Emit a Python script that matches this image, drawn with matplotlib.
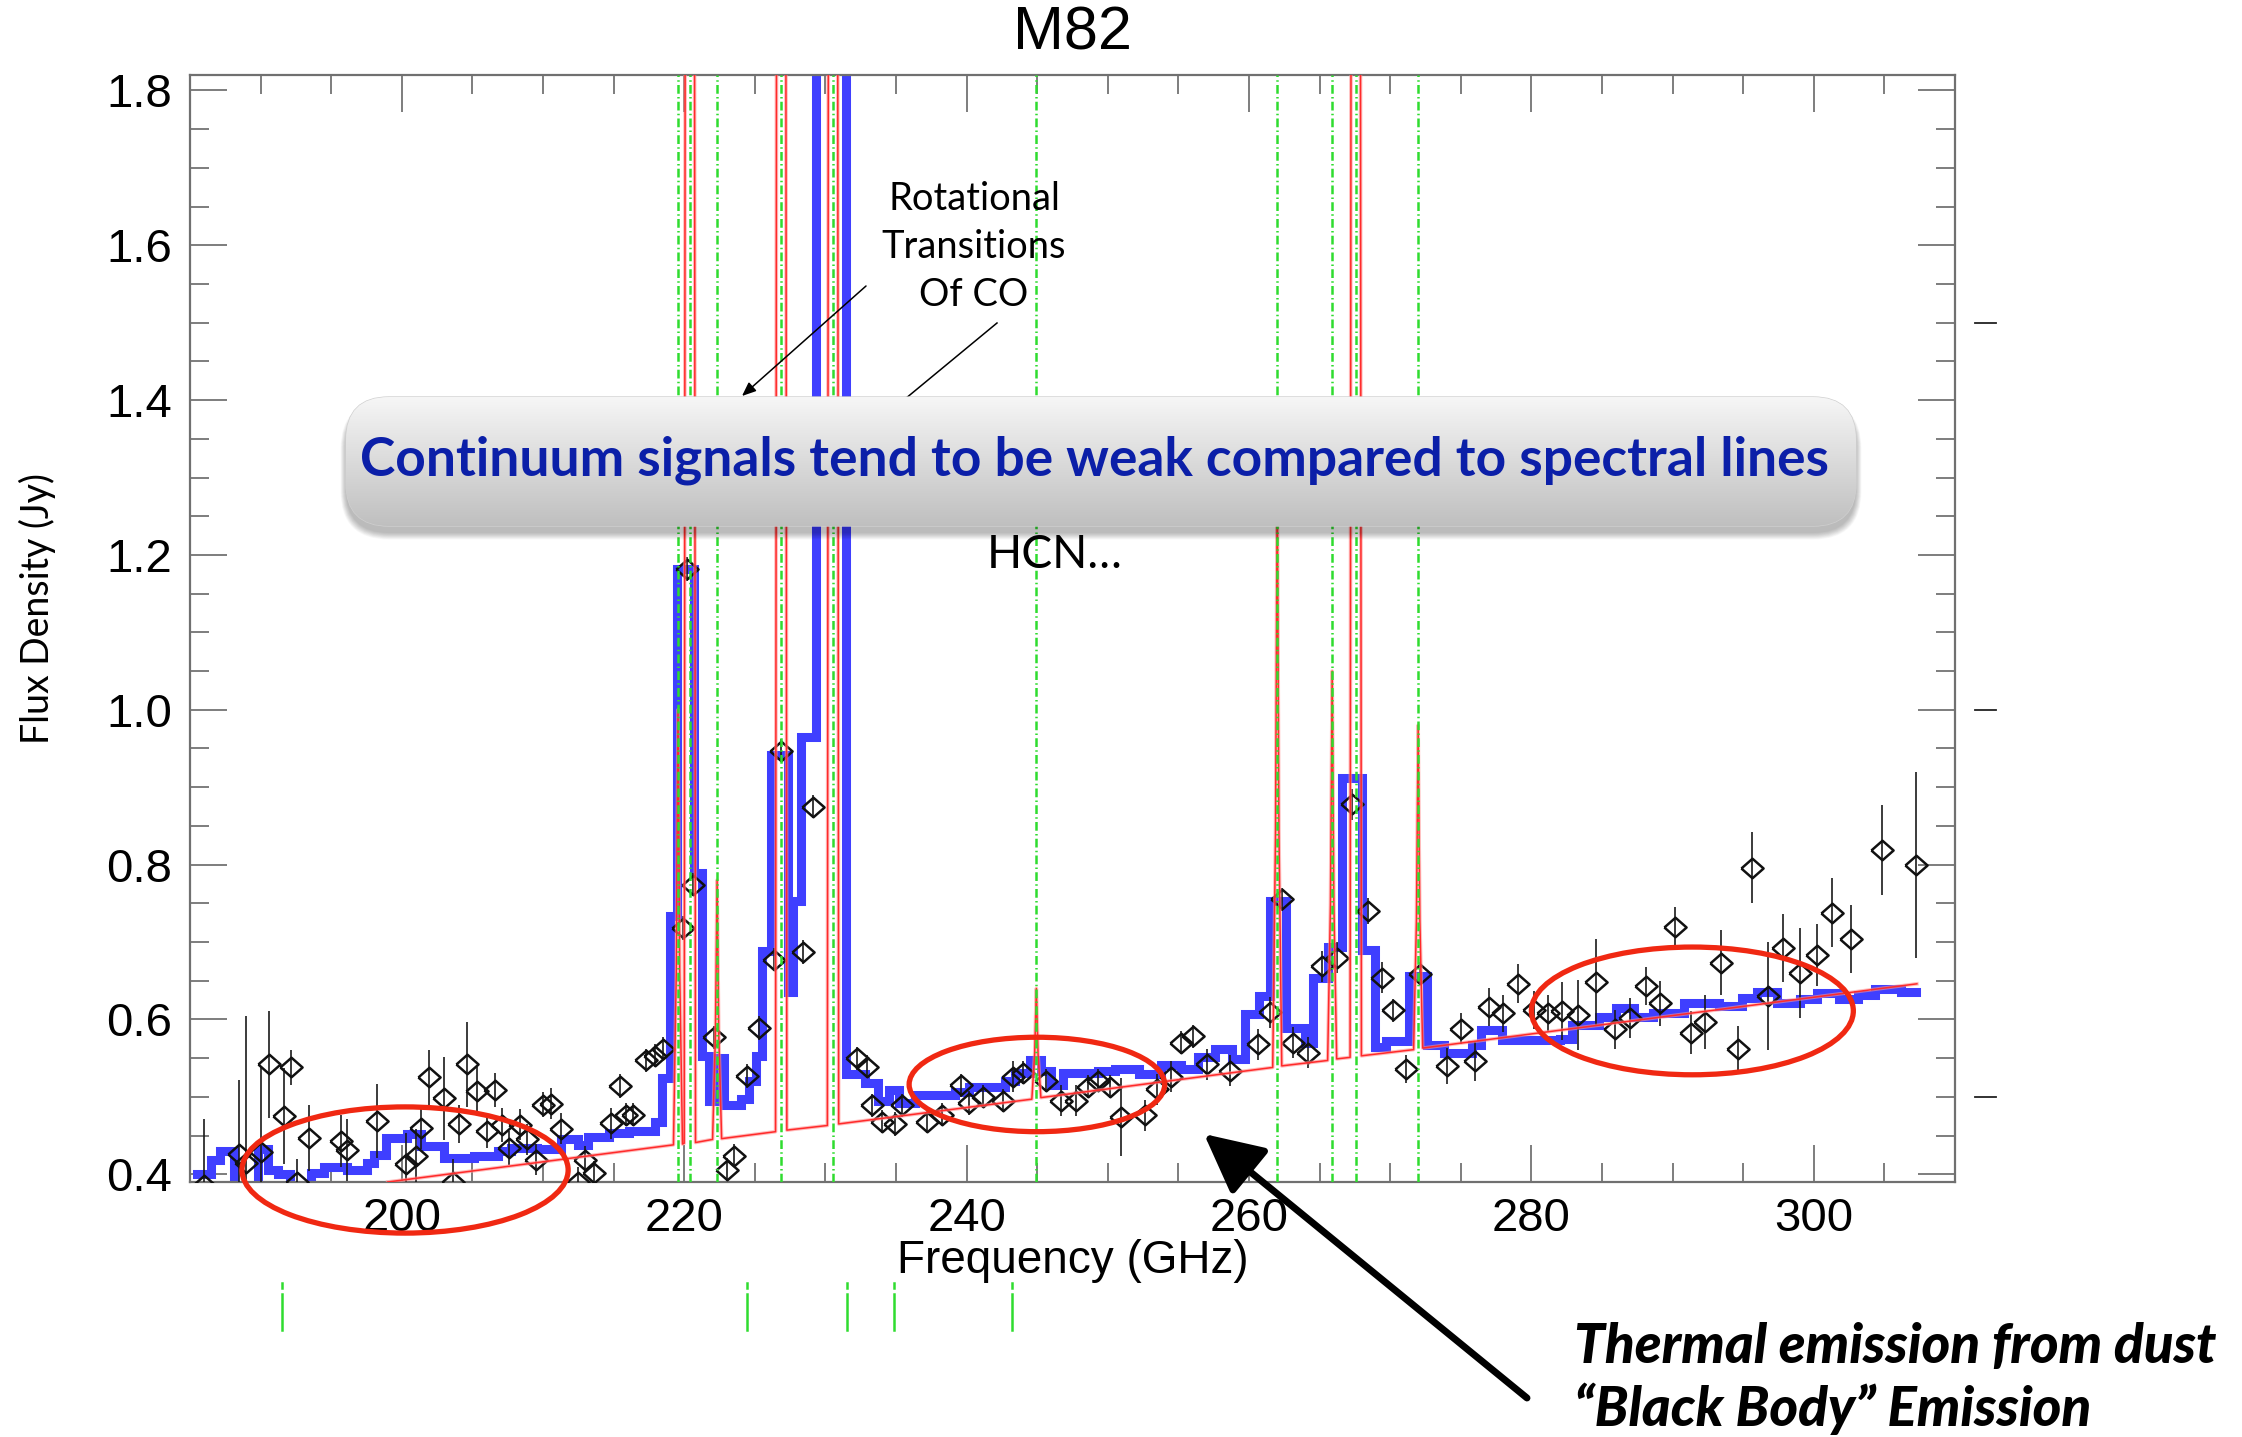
import numpy as np
import matplotlib
matplotlib.use("Agg")
import matplotlib.pyplot as plt
from matplotlib.patches import Ellipse, FancyBboxPatch, FancyArrowPatch
from matplotlib.ticker import MultipleLocator, FormatStrFormatter

W, H, DPI = 2242, 1437, 100

##############################
# DATA
##############################
# binned spectrum: left edge of each step (GHz) and flux (Jy)
bin_start = [185.5, 186.5, 187.1, 188.1, 189.8, 190.5, 191.2, 192.1, 193.55, 194.5,
             196.15, 197.57, 198.04, 198.87, 200.4, 201.35, 203.0, 205.13, 206.8, 207.7,
             209.6, 211.3, 212.45, 213.16, 214.7, 216.1, 217.9, 218.4, 219.0, 219.52,
             220.66, 221.26, 221.75, 222.2, 222.8, 224.0, 224.59, 225.07, 225.54, 226.14,
             227.33, 227.69, 228.28, 229.3, 231.45, 232.8, 233.76, 234.47, 235.19, 236.38,
             239.2, 240.2, 242.7, 243.4, 244.47, 245.3, 246.0, 246.8, 249.3, 250.5,
             252.2, 253.8, 255.2, 256.4, 257.6, 258.8, 259.7, 260.7, 261.5, 262.6,
             264.0, 264.56, 265.6, 266.57, 268.0, 268.93, 269.7, 271.3, 272.6, 273.8,
             275.8, 276.4, 277.9, 282.0, 282.9, 284.8, 286.0, 287.3, 288.6, 290.8,
             293.3, 294.9, 296.0, 297.4, 299.0, 300.2, 301.8, 303.1, 304.3, 306.2]
bin_flux = [0.400, 0.418, 0.430, 0.370, 0.432, 0.405, 0.400, 0.370, 0.402, 0.410,
            0.406, 0.415, 0.425, 0.447, 0.452, 0.436, 0.421, 0.423, 0.430, 0.434,
            0.432, 0.445, 0.438, 0.448, 0.453, 0.456, 0.468, 0.524, 0.733, 1.182,
            0.789, 0.553, 0.495, 0.550, 0.489, 0.497, 0.521, 0.553, 0.689, 0.941,
            0.636, 0.753, 0.965, 3.000, 0.530, 0.518, 0.495, 0.509, 0.492, 0.503,
            0.506, 0.513, 0.521, 0.531, 0.547, 0.534, 0.515, 0.531, 0.534, 0.536,
            0.529, 0.541, 0.536, 0.552, 0.562, 0.549, 0.607, 0.630, 0.753, 0.589,
            0.570, 0.653, 0.693, 0.912, 0.690, 0.565, 0.572, 0.656, 0.567, 0.556,
            0.567, 0.586, 0.573, 0.575, 0.593, 0.603, 0.615, 0.603, 0.608, 0.621,
            0.617, 0.628, 0.636, 0.621, 0.627, 0.634, 0.627, 0.632, 0.639, 0.636]
bin_end = 307.25

# individual measurements with 1-sigma errors
pt_freq = [186.0, 188.47, 189.0, 190.06, 190.6, 191.66, 192.13, 192.6, 193.43, 195.68,
           196.15, 198.23, 200.28, 201.0, 201.35, 201.94, 203.0, 203.6, 204.06, 204.65,
           205.3, 206.0, 206.63, 207.1, 207.6, 208.4, 208.9, 209.5, 210.0, 210.6,
           211.3, 212.45, 213.0, 213.63, 214.8, 215.45, 215.9, 216.38, 217.33, 217.93,
           218.52, 219.9, 220.23, 220.62, 222.09, 223.04, 223.52, 224.47, 225.31, 226.38,
           226.85, 228.4, 229.1, 232.21, 232.92, 233.28, 233.99, 234.95, 235.4, 237.21,
           238.28, 239.59, 240.19, 241.14, 242.58, 243.29, 244.0, 245.65, 246.67, 247.78,
           248.6, 249.31, 250.14, 250.97, 252.62, 253.45, 254.5, 255.2, 256.05, 257.0,
           258.65, 260.66, 261.49, 262.32, 263.14, 264.2, 265.15, 266.21, 267.27, 268.45,
           269.4, 270.2, 271.15, 272.1, 274.0, 275.0, 276.0, 277.0, 278.0, 279.05,
           280.15, 281.2, 282.2, 283.3, 284.57, 285.9, 286.95, 288.1, 289.1, 290.14,
           291.3, 292.3, 293.45, 294.6, 295.65, 296.75, 297.8, 299.0, 300.2, 301.26,
           302.6, 304.8, 307.25]
pt_flux = [0.386, 0.426, 0.415, 0.429, 0.542, 0.475, 0.538, 0.390, 0.447, 0.443,
           0.431, 0.469, 0.413, 0.423, 0.460, 0.525, 0.498, 0.390, 0.465, 0.542,
           0.507, 0.456, 0.509, 0.464, 0.434, 0.464, 0.445, 0.419, 0.490, 0.491,
           0.459, 0.390, 0.419, 0.402, 0.466, 0.514, 0.477, 0.477, 0.547, 0.553,
           0.562, 0.718, 1.182, 0.774, 0.577, 0.406, 0.424, 0.527, 0.589, 0.677,
           0.947, 0.687, 0.875, 0.550, 0.539, 0.489, 0.468, 0.465, 0.489, 0.468,
           0.477, 0.515, 0.492, 0.500, 0.495, 0.526, 0.531, 0.521, 0.495, 0.495,
           0.513, 0.521, 0.513, 0.474, 0.476, 0.510, 0.526, 0.570, 0.578, 0.542,
           0.534, 0.568, 0.609, 0.755, 0.570, 0.557, 0.669, 0.680, 0.878, 0.740,
           0.654, 0.612, 0.536, 0.659, 0.540, 0.588, 0.546, 0.616, 0.608, 0.646,
           0.612, 0.608, 0.611, 0.606, 0.648, 0.587, 0.602, 0.643, 0.621, 0.719,
           0.583, 0.597, 0.673, 0.562, 0.796, 0.630, 0.692, 0.660, 0.683, 0.738,
           0.704, 0.819, 0.800]
pt_err = [0.085, 0.096, 0.190, 0.110, 0.069, 0.062, 0.023, 0.030, 0.043, 0.034,
          0.040, 0.048, 0.040, 0.035, 0.028, 0.036, 0.054, 0.030, 0.025, 0.055,
          0.031, 0.022, 0.022, 0.022, 0.022, 0.020, 0.020, 0.020, 0.016, 0.020,
          0.020, 0.020, 0.017, 0.015, 0.020, 0.015, 0.015, 0.015, 0.015, 0.015,
          0.015, 0.015, 0.015, 0.015, 0.015, 0.015, 0.015, 0.015, 0.015, 0.015,
          0.015, 0.015, 0.015, 0.015, 0.015, 0.015, 0.015, 0.015, 0.015, 0.015,
          0.015, 0.015, 0.015, 0.015, 0.015, 0.020, 0.015, 0.015, 0.020, 0.020,
          0.015, 0.015, 0.015, 0.050, 0.020, 0.020, 0.020, 0.015, 0.015, 0.020,
          0.020, 0.020, 0.020, 0.015, 0.020, 0.020, 0.020, 0.020, 0.020, 0.017,
          0.020, 0.015, 0.018, 0.015, 0.023, 0.020, 0.025, 0.024, 0.024, 0.025,
          0.025, 0.023, 0.037, 0.045, 0.056, 0.025, 0.026, 0.025, 0.029, 0.026,
          0.028, 0.035, 0.042, 0.029, 0.046, 0.070, 0.044, 0.058, 0.040, 0.045,
          0.044, 0.058, 0.120]

# model: dust continuum plus narrow line profiles (vertices of the red curve)
model_freq = [199.0,
              219.24, 219.44, 219.56, 219.68, 219.88,
              220.00, 220.12, 220.68, 220.80,
              222.01, 222.21, 222.33, 222.45, 222.65,
              226.47, 226.59, 227.15, 227.27,
              230.14, 230.26, 230.82, 230.94,
              244.62, 244.82, 244.94, 245.06, 245.26,
              261.68, 261.88, 262.00, 262.12, 262.32,
              265.57, 265.77, 265.89, 266.01, 266.21,
              267.16, 267.28, 267.84, 267.96,
              271.66, 271.86, 271.98, 272.10, 272.30,
              307.3]
model_flux = [0.390,
              0.438, 0.663, 1.000, 0.663, 0.439,
              0.440, 3.000, 3.000, 0.441,
              0.445, 0.579, 0.780, 0.579, 0.446,
              0.455, 3.000, 3.000, 0.457,
              0.463, 3.000, 3.000, 0.465,
              0.497, 0.555, 0.640, 0.555, 0.499,
              0.538, 0.843, 1.300, 0.843, 0.540,
              0.547, 0.749, 1.050, 0.749, 0.549,
              0.551, 3.000, 3.000, 0.553,
              0.561, 0.729, 0.980, 0.729, 0.563,
              0.646]

# identified line frequencies (green markers)
line_freq = [219.56, 220.40, 222.33, 226.87, 230.54, 244.94, 262.00, 265.89, 267.56, 271.98]
extra_line_freq = [191.54, 224.48, 231.54, 234.83, 243.23]
side_marks = [1.5, 1.0, 0.5]

##############################
# FIGURE
##############################
plt.rcParams['font.family'] = ['Liberation Sans', 'DejaVu Sans']
fig = plt.figure(figsize=(W / DPI, H / DPI), dpi=DPI)
ax = fig.add_axes([190 / W, 1 - 1182 / H, 1765 / W, 1107 / H])

diamond = [(-1, 0), (0, 0.88), (1, 0), (0, -0.88), (-1, 0)]

ax.step(np.r_[bin_start, bin_end], np.r_[bin_flux, bin_flux[-1]], where='post',
        color='#3f3fff', lw=6.5, solid_joinstyle='miter', zorder=2)
ax.errorbar(pt_freq, pt_flux, yerr=pt_err, fmt='none', ecolor='#1a1a1a',
            elinewidth=1.2, capsize=0, zorder=3)
ax.plot(pt_freq, pt_flux, ls='none', marker=diamond, ms=16, mfc='none',
        mec='#111111', mew=1.8, zorder=3)
# soft halo + core for the model curve
ax.plot(model_freq, model_flux, color='#ff9090', lw=2.6, alpha=0.6, zorder=4)
ax.plot(model_freq, model_flux, color='#ff2a2a', lw=1.1, zorder=4)
for f in line_freq:
    ax.axvline(f, color='#2fdc2f', lw=1.8, ls=(0, (3.5, 1.3, 0.6, 1.3)), zorder=5)

# marks outside the frame
for f in extra_line_freq:
    ax.plot([f, f], [0.2595, 0.253], color='#2fdc2f', lw=1.8, clip_on=False)
    ax.plot([f, f], [0.2453, 0.1988], color='#2fdc2f', lw=1.8, clip_on=False)
for s in side_marks:
    ax.plot([311.4, 312.9], [s, s], color='#222222', lw=1.3, clip_on=False)

ax.set_xlim(185, 310)
ax.set_ylim(0.39, 1.82)
ax.xaxis.set_major_locator(MultipleLocator(20))
ax.xaxis.set_minor_locator(MultipleLocator(5))
ax.yaxis.set_major_locator(MultipleLocator(0.2))
ax.yaxis.set_minor_locator(MultipleLocator(0.05))
ax.yaxis.set_major_formatter(FormatStrFormatter('%.1f'))
ax.tick_params(which='both', direction='in', top=True, right=True,
               color='#5a5a5a', width=1.1, labelsize=34)
ax.tick_params(which='major', length=26.5)
ax.tick_params(which='minor', length=14)
ax.tick_params(axis='x', pad=11)
ax.tick_params(axis='y', pad=13)
for sp in ax.spines.values():
    sp.set_color('#707070')
    sp.set_linewidth(1.6)

ax.set_xlabel('Frequency (GHz)', fontsize=33)
ax.xaxis.set_label_coords(0.5, -0.0715)
ax.xaxis.label.set_va('center')
ax.set_ylabel('Flux Density (Jy)', fontsize=27, family=['Lato', 'DejaVu Sans'])
ax.yaxis.set_label_coords(-0.0867, 0.5185)
ax.yaxis.label.set_va('center')
fig.text(1072 / W, 1 - 34 / H, 'M82', ha='center', va='center', fontsize=44)

# red circles around continuum regions
for (cx, cy, ew, eh) in [(200.23, 0.4055, 23.1, 0.163),
                         (244.98, 0.516, 18.1, 0.122),
                         (291.4, 0.611, 22.8, 0.165)]:
    ax.add_patch(Ellipse((cx, cy), ew, eh, fill=False, ec='#f02812', lw=3.8,
                         clip_on=False, zorder=6))

##############################
# OVERLAY (pixel coordinates)
##############################
ov = fig.add_axes([0, 0, 1, 1])
ov.axis('off')

gill = ['Lato', 'DejaVu Sans']
renderer = fig.canvas.get_renderer()


def fit_width(t, width_px):
    bb = t.get_window_extent(renderer)
    t.set_fontsize(t.get_fontsize() * width_px / bb.width)


# pointer lines from the CO label
ov.add_patch(FancyArrowPatch((866, 286), (742, 396), arrowstyle='-|>,head_length=0.6,head_width=0.25',
                             mutation_scale=14, lw=1.1, color='black', shrinkA=0, shrinkB=0, zorder=1))
ov.plot([997, 905], [323, 399], color='black', lw=1.1, zorder=1)

# callout box with shadow and gradient
bx, by, bw, bh, rad = 346, 397, 1510, 129, 43
for i in range(12):
    ov.add_patch(FancyBboxPatch((bx - i * 0.5, by + 7 - i * 0.3), bw + i, bh + i * 0.9,
                                boxstyle=f'round,pad=0,rounding_size={rad + i * 0.5}',
                                fc='black', ec='none', alpha=0.022, zorder=2))
box = FancyBboxPatch((bx, by), bw, bh, boxstyle=f'round,pad=0,rounding_size={rad}',
                     fc='#dddddd', ec='#d0d0d0', lw=1.0, zorder=3)
ov.add_patch(box)
shade = np.linspace(0.965, 0.75, 200)[:, None] * np.ones((1, 2))
grad = ov.imshow(np.dstack([shade, shade, shade]), extent=[bx, bx + bw, by + bh, by],
                 origin='upper', aspect='auto', zorder=3.5, interpolation='bilinear')
grad.set_clip_path(box)

t = ov.text(1094, 460, 'Continuum signals tend to be weak compared to spectral lines',
            ha='center', va='center', color='#0b1fa8', fontsize=32, fontweight='bold',
            family=gill, zorder=4)
fit_width(t, 1473)

t = ov.text(974, 247, 'Rotational\nTransitions\nOf CO', ha='center', va='center',
            fontsize=26, family=gill, linespacing=1.42, zorder=4)
fit_width(t, 184)
t = ov.text(1055, 555, 'HCN\u2026', ha='center', va='center', fontsize=26, family=gill, zorder=4)
fit_width(t, 136)

t1 = ov.text(1574, 1347, 'Thermal emission from dust', ha='left', va='center',
             fontsize=34, fontweight='black', style='italic', family=gill, zorder=4)
fit_width(t1, 643)
ov.text(1574, 1409, '\u201cBlack Body\u201d Emission', ha='left', va='center',
        fontsize=t1.get_fontsize(), fontweight='black', style='italic', family=gill, zorder=4)

# big arrow to the continuum
ov.add_patch(FancyArrowPatch((1527, 1398), (1204, 1134),
                             arrowstyle='-|>,head_length=0.9,head_width=0.45',
                             mutation_scale=40, lw=5, color='black', shrinkA=0, shrinkB=0, zorder=4))

ov.set_xlim(0, W)
ov.set_ylim(H, 0)

fig.savefig('out.png', dpi=DPI)
